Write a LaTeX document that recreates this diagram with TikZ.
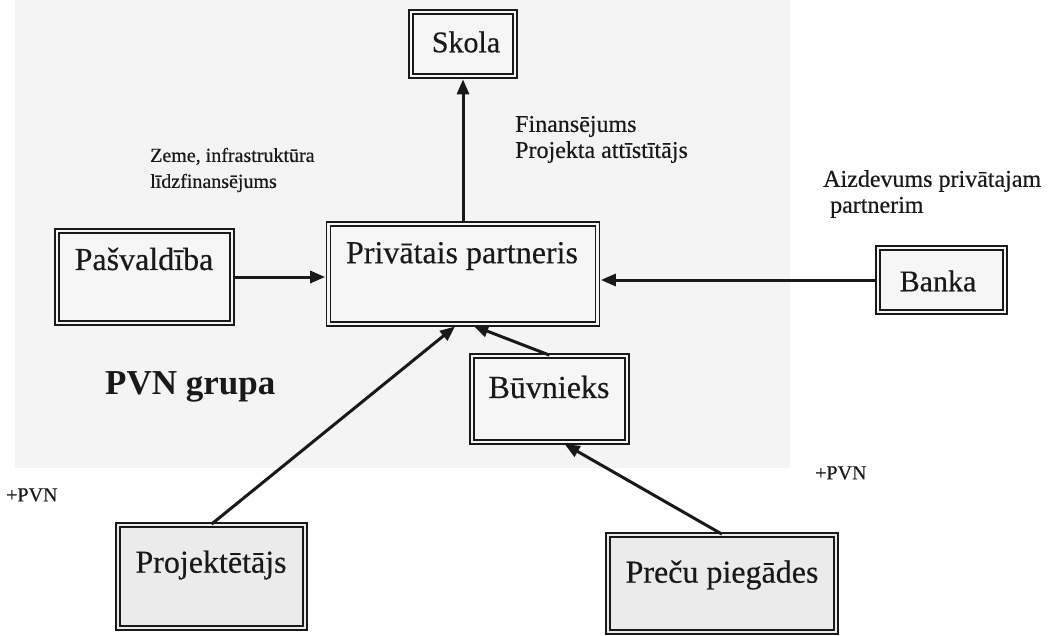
\documentclass[tikz,border=0pt]{standalone}
\usepackage{fontspec}
\setmainfont{Liberation Serif}
\newfontfamily\heavy{Liberation Serif}[FakeBold=0.4]
\usetikzlibrary{arrows.meta,calc}
\begin{document}
\begin{tikzpicture}[x=1pt,y=-1pt,
  dbox/.style={draw=black!90, line width=1.7pt, double=#1, double distance=2.2pt, fill=#1, inner sep=0pt},
  dbox/.default=gray!7,
  boxtxt/.style={font=\heavy\fontsize{32}{36}\selectfont, text=black!90, inner sep=0pt},
  lbl/.style={font=\heavy\fontsize{24}{26}\selectfont, align=left, anchor=west, inner sep=0pt, text=black!90},
  arr/.style={line width=3pt, draw=black!90, -{Triangle[length=15pt,width=12pt]}, shorten >=2.5pt}
]
\useasboundingbox (0,0) rectangle (1050,635);
\fill[white] (0,0) rectangle (1050,635);
\fill[gray!9] (15,0) rectangle (790,468);

% boxes
\node[dbox, minimum width=104pt, minimum height=64pt] (sk) at (463,44) {};
\node[boxtxt, font=\heavy\fontsize{30}{34}\selectfont] (skt) at (466,42) {Skola};

\node[dbox, minimum width=269pt, minimum height=100pt] (pp) at (463,274) {};
\node[boxtxt] (ppt) at (462,256) {Privātais partneris};

\node[dbox, minimum width=175pt, minimum height=92pt] (pv) at (144.5,277) {};
\node[boxtxt] (pvt) at (144,259) {Pašvaldība};

\node[dbox, minimum width=127pt, minimum height=64pt] (bk) at (941.5,280) {};
\node[boxtxt, font=\heavy\fontsize{30}{34}\selectfont] (bkt) at (938,281) {Banka};

\node[dbox, minimum width=155pt, minimum height=86pt] (bv) at (549.5,399) {};
\node[boxtxt] (bvt) at (549,387) {Būvnieks};

\node[dbox=gray!16, minimum width=187pt, minimum height=103pt] (pj) at (211.5,576.5) {};
\node[boxtxt] (pjt) at (211,565) {Projektētājs};

\node[dbox=gray!16, minimum width=228pt, minimum height=97pt] (pr) at (722,583.5) {};
\node[boxtxt] (prt) at (722,575) {Preču piegādes};

% labels
\node[lbl] (l1) at (515,139.5) {Finansējums\\Projekta attīstītājs};
\node[lbl, font=\heavy\fontsize{20}{26}\selectfont] (l2) at (150,170) {Zeme, infrastruktūra\\līdzfinansējums};
\node[lbl] (l3) at (823,194) {Aizdevums privātajam\\\hspace*{7pt}partnerim};
\node[lbl, font=\bfseries\fontsize{35}{40}\selectfont] (l4) at (105,387) {PVN grupa};
\node[lbl, font=\heavy\fontsize{20}{26}\selectfont] (l5) at (6,495) {+PVN};
\node[lbl, font=\heavy\fontsize{20}{26}\selectfont] (l6) at (815,473) {+PVN};

% connectors
\draw[arr] (pp.north) -- (sk.south);
\draw[arr] (pv.east) -- (pv.east -| pp.west);
\draw[arr] (bk.west) -- (bk.west -| pp.east);
\draw[arr] (bv.north) -- ($(pp.south)+(8,0)$);
\draw[arr] (pj.north) -- ($(pp.south)+(-6,0)$);
\draw[arr] (pr.north) -- ($(bv.south)+(13,0)$);
\end{tikzpicture}
\end{document}
